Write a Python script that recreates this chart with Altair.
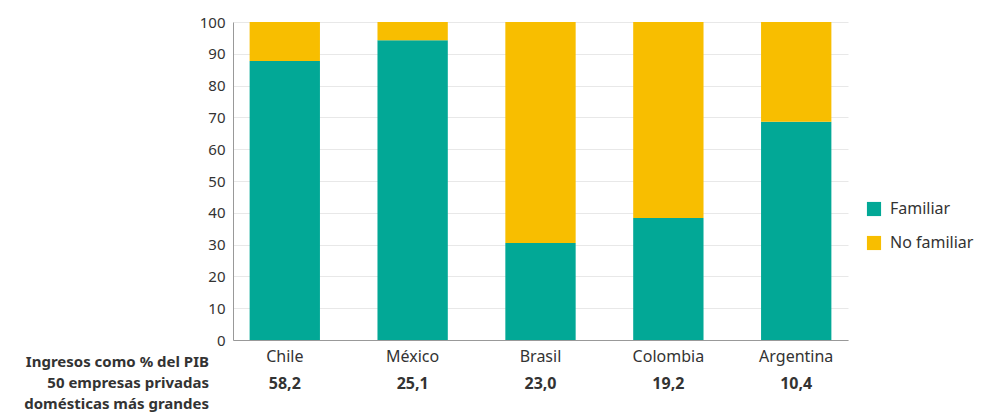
import altair as alt
import pandas as pd

countries = ["Chile", "México", "Brasil", "Colombia", "Argentina"]
familiar = [87.7, 94.3, 30.5, 38.4, 68.6]
no_familiar = [12.3, 5.7, 69.5, 61.6, 31.4]
ingresos = ["58,2", "25,1", "23,0", "19,2", "10,4"]
series = ["Familiar", "No familiar"]
colors = ["#02A896", "#F8BE00"]
note_lines = ["Ingresos como % del PIB", "50 empresas privadas", "domésticas más grandes"]

FONT = "Noto Sans"
TXT = "#333333"
W, H = 615, 318

rows = []
for c, f, n in zip(countries, familiar, no_familiar):
    rows.append({"pais": c, "serie": series[0], "valor": f, "orden": 0})
    rows.append({"pais": c, "serie": series[1], "valor": n, "orden": 1})
df = pd.DataFrame(rows)
vals = pd.DataFrame({"pais": countries, "ingreso": ingresos})
note = pd.DataFrame({"t": ["\n".join(note_lines)]})

xenc = alt.X(
    "pais:N", sort=countries,
    scale=alt.Scale(paddingInner=0.45, paddingOuter=0.13),
    axis=alt.Axis(title=None, labelAngle=0, ticks=False, domainColor="#999999",
                  labelFontSize=16, labelColor=TXT, labelPadding=8, labelFont=FONT),
)

bars = alt.Chart(df).mark_bar().encode(
    x=xenc,
    y=alt.Y("valor:Q", stack="zero", scale=alt.Scale(domain=[0, 100]),
            axis=alt.Axis(title=None, values=list(range(0, 101, 10)), ticks=False,
                          domainColor="#999999", gridColor="#e8e8e8", labelFontSize=15,
                          labelColor=TXT, labelPadding=8, labelFont=FONT)),
    color=alt.Color("serie:N", scale=alt.Scale(domain=series, range=colors),
                    legend=alt.Legend(title=None, orient="none", legendX=633, legendY=179,
                                      symbolType="square", symbolSize=200, symbolStrokeWidth=0,
                                      labelFontSize=16, labelColor=TXT, labelFont=FONT,
                                      rowPadding=18, labelOffset=8, padding=0)),
    order=alt.Order("orden:Q"),
)

values_text = alt.Chart(vals).mark_text(
    fontWeight="bold", fontSize=16, baseline="middle", color=TXT, font=FONT
).encode(
    x=alt.X("pais:N", sort=countries),
    y=alt.value(H + 44),
    text="ingreso:N",
)

note_text = alt.Chart(note).mark_text(
    fontWeight="bold", fontSize=15, align="right", baseline="middle", color=TXT,
    font=FONT, lineBreak="\n", lineHeight=21
).encode(
    x=alt.value(-24),
    y=alt.value(H + 22),
    text="t:N",
)

chart = alt.layer(bars, values_text, note_text).properties(
    width=W, height=H,
    padding={"left": 16, "top": 7, "right": 0, "bottom": 0},
).configure_view(stroke=None)

chart.save("out.html", embed_options={"renderer": "svg", "actions": False})
